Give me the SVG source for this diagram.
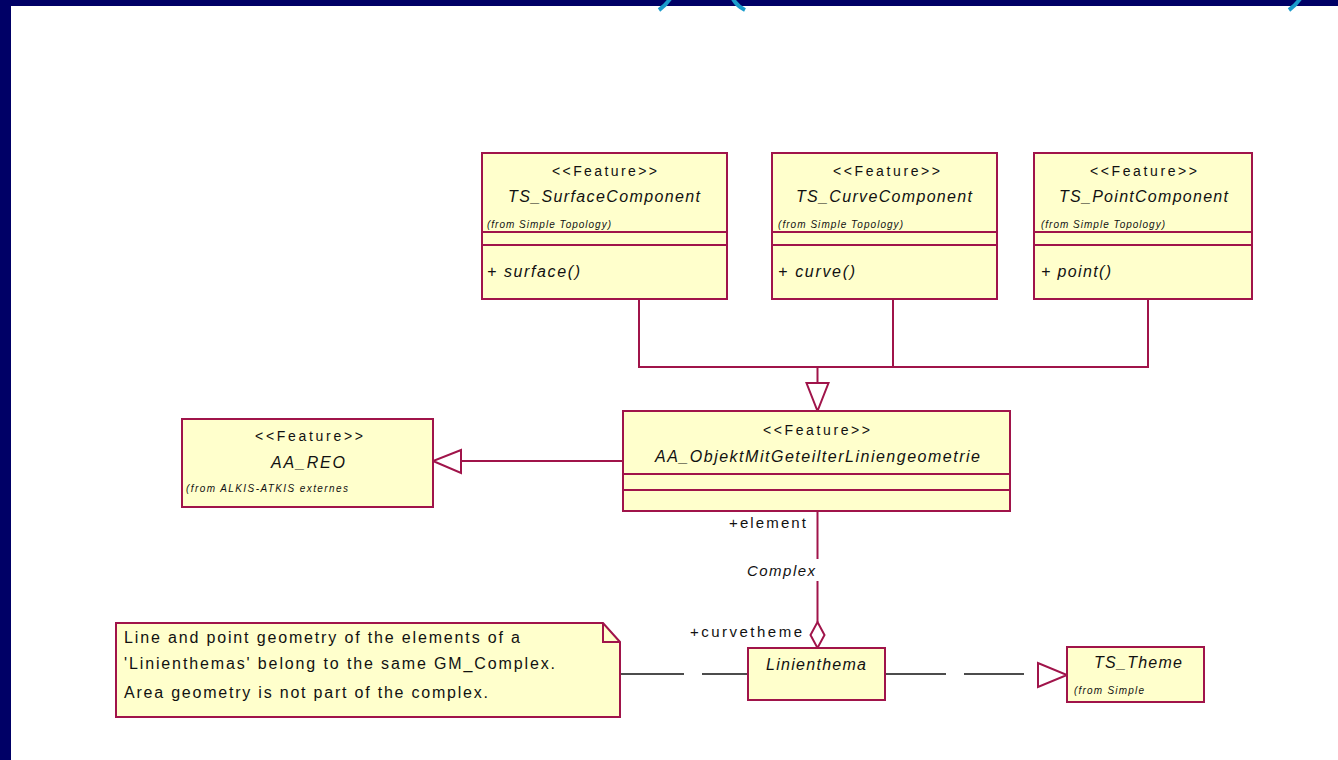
<svg xmlns="http://www.w3.org/2000/svg" width="1338" height="760" viewBox="0 0 1338 760">
<style>
.bg{fill:#ffffff}
.frame{fill:#000066}
.arc{fill:none;stroke:#1a9ccc;stroke-width:4}
.box{fill:#ffffcc;stroke:#a0144a;stroke-width:2}
.sep{stroke:#a0144a;stroke-width:2}
.conn{fill:none;stroke:#a0144a;stroke-width:2}
.head{fill:#ffffff;stroke:#a0144a;stroke-width:2}
.dash{stroke:#111111;stroke-width:1.6}
.t{font-family:"Liberation Sans",Arial,sans-serif;fill:#111111}
.st{font-size:14px}
.nm{font-size:16px;font-style:italic}
.fr{font-size:10px;font-style:italic}
.op{font-size:16px;font-style:italic}
.lb{font-size:15px}
.nt{font-size:16px}
</style>
<rect class="bg" x="0" y="0" width="1338" height="760"/>
<rect class="frame" x="0" y="0" width="1338" height="6"/>
<rect class="frame" x="0" y="0" width="11" height="760"/>
<path class="arc" d="M670,-1 Q666,5 659,10"/>
<path class="arc" d="M733,-1 Q737,6 745,10"/>
<path class="arc" d="M1300,-1 Q1296,5 1289,10"/>

<g id="connectors">
  <polyline class="conn" points="639,299 639,367 1148,367 1148,299"/>
  <line class="conn" x1="893" y1="299" x2="893" y2="367"/>
  <line class="conn" x1="817.5" y1="367" x2="817.5" y2="383"/>
  <polygon class="head" points="806.5,383 828.5,383 817.5,411"/>
  <line class="conn" x1="623" y1="461" x2="461" y2="461"/>
  <polygon class="head" points="461,450 461,473 433,461"/>
  <line class="conn" x1="817.5" y1="511" x2="817.5" y2="559"/>
  <line class="conn" x1="817.5" y1="581" x2="817.5" y2="622"/>
  <polygon class="head" points="817.5,622 824.5,635 817.5,648 810.5,635"/>
  <line class="dash" x1="620" y1="674" x2="684" y2="674"/>
  <line class="dash" x1="702" y1="674" x2="748" y2="674"/>
  <line class="dash" x1="885" y1="674" x2="946" y2="674"/>
  <line class="dash" x1="964" y1="674" x2="1024" y2="674"/>
  <polygon class="head" points="1038,663 1038,687 1067,675"/>
  <text class="t lb" x="729" y="528" textLength="77" lengthAdjust="spacing">+element</text>
  <text class="t lb" x="747" y="576" font-style="italic" textLength="68" lengthAdjust="spacing">Complex</text>
  <text class="t lb" x="690" y="637" textLength="112" lengthAdjust="spacing">+curvetheme</text>
</g>

<g id="TS_SurfaceComponent">
  <rect class="box" x="482" y="153" width="245" height="146"/>
  <line class="sep" x1="482" y1="232" x2="727" y2="232"/>
  <line class="sep" x1="482" y1="245" x2="727" y2="245"/>
  <text class="t st" x="552" y="176" textLength="105" lengthAdjust="spacing">&lt;&lt;Feature&gt;&gt;</text>
  <text class="t nm" x="508" y="202" textLength="192" lengthAdjust="spacing">TS_SurfaceComponent</text>
  <text class="t fr" x="487" y="228" textLength="124" lengthAdjust="spacing">(from Simple Topology)</text>
  <text class="t op" x="487" y="277" textLength="93" lengthAdjust="spacing">+ surface()</text>
</g>

<g id="TS_CurveComponent">
  <rect class="box" x="772" y="153" width="225" height="146"/>
  <line class="sep" x1="772" y1="232" x2="997" y2="232"/>
  <line class="sep" x1="772" y1="245" x2="997" y2="245"/>
  <text class="t st" x="833" y="176" textLength="107" lengthAdjust="spacing">&lt;&lt;Feature&gt;&gt;</text>
  <text class="t nm" x="796" y="202" textLength="176" lengthAdjust="spacing">TS_CurveComponent</text>
  <text class="t fr" x="778" y="228" textLength="125" lengthAdjust="spacing">(from Simple Topology)</text>
  <text class="t op" x="778" y="277" textLength="77" lengthAdjust="spacing">+ curve()</text>
</g>

<g id="TS_PointComponent">
  <rect class="box" x="1034" y="153" width="218" height="146"/>
  <line class="sep" x1="1034" y1="232" x2="1252" y2="232"/>
  <line class="sep" x1="1034" y1="245" x2="1252" y2="245"/>
  <text class="t st" x="1090" y="176" textLength="107" lengthAdjust="spacing">&lt;&lt;Feature&gt;&gt;</text>
  <text class="t nm" x="1059" y="202" textLength="169" lengthAdjust="spacing">TS_PointComponent</text>
  <text class="t fr" x="1041" y="228" textLength="124" lengthAdjust="spacing">(from Simple Topology)</text>
  <text class="t op" x="1041" y="277" textLength="70" lengthAdjust="spacing">+ point()</text>
</g>

<g id="AA_ObjektMitGeteilterLiniengeometrie">
  <rect class="box" x="623" y="411" width="387" height="100"/>
  <line class="sep" x1="623" y1="474" x2="1010" y2="474"/>
  <line class="sep" x1="623" y1="490" x2="1010" y2="490"/>
  <text class="t st" x="763" y="435" textLength="107" lengthAdjust="spacing">&lt;&lt;Feature&gt;&gt;</text>
  <text class="t nm" x="655" y="462" textLength="325" lengthAdjust="spacing">AA_ObjektMitGeteilterLiniengeometrie</text>
</g>

<g id="AA_REO">
  <rect class="box" x="182" y="419" width="251" height="88"/>
  <text class="t st" x="255" y="441" textLength="108" lengthAdjust="spacing">&lt;&lt;Feature&gt;&gt;</text>
  <text class="t nm" x="271" y="468" textLength="74" lengthAdjust="spacing">AA_REO</text>
  <text class="t fr" x="186" y="492" textLength="162" lengthAdjust="spacing">(from ALKIS-ATKIS externes</text>
</g>

<g id="Linienthema">
  <rect class="box" x="748" y="648" width="137" height="52"/>
  <text class="t nm" x="766" y="670" textLength="100" lengthAdjust="spacing">Linienthema</text>
</g>

<g id="TS_Theme">
  <rect class="box" x="1067" y="647" width="137" height="55"/>
  <text class="t nm" x="1094" y="668" textLength="88" lengthAdjust="spacing">TS_Theme</text>
  <text class="t fr" x="1074" y="694" textLength="70" lengthAdjust="spacing">(from Simple</text>
</g>

<g id="note">
  <path class="box" d="M116,623 H603 L620,642 V717 H116 Z"/>
  <path class="conn" d="M603,623 V642 H620"/>
  <text class="t nt" x="124" y="643" textLength="396" lengthAdjust="spacing">Line and point geometry of the elements of a</text>
  <text class="t nt" x="124" y="669" textLength="431" lengthAdjust="spacing">'Linienthemas' belong to the same  GM_Complex.</text>
  <text class="t nt" x="124" y="698" textLength="364" lengthAdjust="spacing">Area geometry is not part of the complex.</text>
</g>
</svg>
